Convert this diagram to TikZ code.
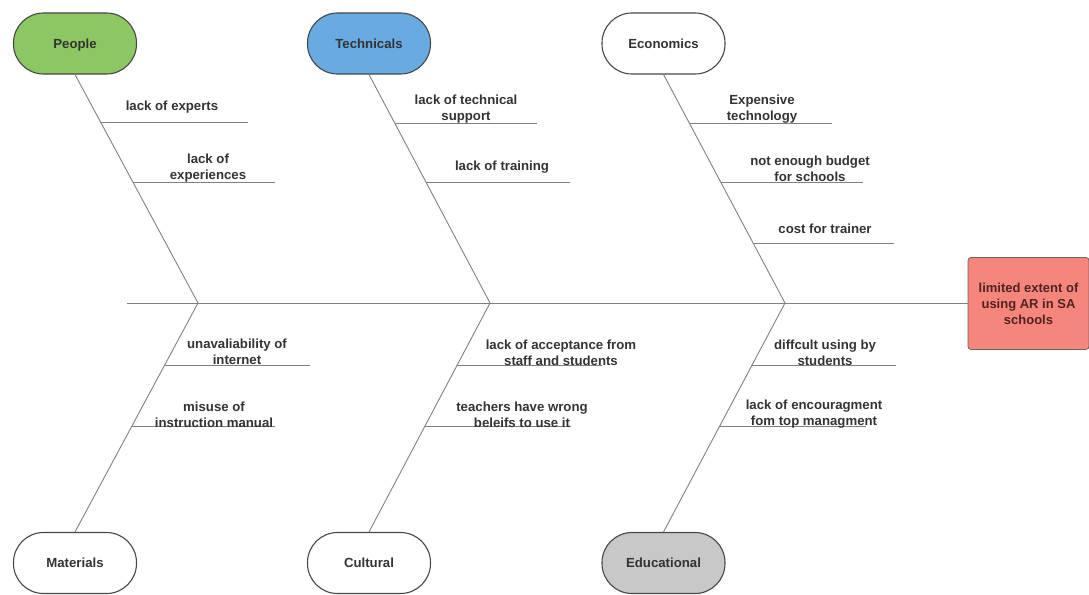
\documentclass[tikz,border=0pt]{standalone}
\usepackage{fontspec}
\setmainfont{Liberation Sans}
\usetikzlibrary{calc}
\definecolor{pgreen}{RGB}{141,199,100}
\definecolor{tblue}{RGB}{104,170,225}
\definecolor{egray}{RGB}{200,200,200}
\definecolor{effred}{RGB}{246,134,124}
\definecolor{linegray}{RGB}{128,128,128}
\definecolor{txt}{RGB}{51,51,51}
\definecolor{efftxt}{RGB}{80,35,35}
\begin{document}
\begin{tikzpicture}[x=1pt,y=-1pt,
 cat/.style={draw=black!72, line width=1.1pt, rounded corners=30pt, minimum width=123pt, minimum height=61pt, inner sep=0pt, text height=9.6pt, text depth=0pt, font=\fontsize{13.2}{16}\selectfont\bfseries, text=txt},
 bone/.style={draw=linegray, line width=0.9pt},
 lbl/.style={font=\fontsize{13.2}{16}\selectfont\bfseries, text=txt, align=center, inner sep=0pt},
]
\useasboundingbox (0,0) rectangle (1089,594);
% categories
\node[cat, fill=pgreen] (people) at (75,43.5) {People};
\node[cat, fill=tblue] (tech) at (369,43.5) {Technicals};
\node[cat, fill=white] (econ) at (663.5,43.5) {Economics};
\node[cat, fill=white] (mat) at (75,563) {Materials};
\node[cat, fill=white] (cult) at (369,563) {Cultural};
\node[cat, fill=egray] (edu) at (663.5,563) {Educational};
% effect
\node[draw=black!60, line width=0.8pt, fill=effred, rounded corners=3pt, minimum width=121pt, minimum height=92pt, inner sep=0pt, align=center, font=\fontsize{13}{16}\selectfont\bfseries, text=efftxt] (effect) at (1028.5,303.5) {limited extent of\\using AR in SA\\schools};
% spine
\coordinate (s0) at (127,303);
\coordinate (j1) at (198,303);
\coordinate (j2) at (490,303);
\coordinate (j3) at (785,303);
\draw[bone] (s0) -- (effect.west |- s0);
\draw[bone] (people.south) -- (j1) -- (mat.north);
\draw[bone] (tech.south) -- (j2) -- (cult.north);
\draw[bone] (econ.south) -- (j3) -- (edu.north);
% sub-branch points
\path ($(people.south)!0.2096!(j1)$) coordinate (p1)
      ($(people.south)!0.4716!(j1)$) coordinate (p2)
      ($(tech.south)!0.214!(j2)$) coordinate (t1)
      ($(tech.south)!0.4716!(j2)$) coordinate (t2)
      ($(econ.south)!0.214!(j3)$) coordinate (e1)
      ($(econ.south)!0.4716!(j3)$) coordinate (e2)
      ($(econ.south)!0.738!(j3)$) coordinate (e3)
      ($(j1)!0.274!(mat.north)$) coordinate (m1)
      ($(j1)!0.539!(mat.north)$) coordinate (m2)
      ($(j2)!0.274!(cult.north)$) coordinate (c1)
      ($(j2)!0.539!(cult.north)$) coordinate (c2)
      ($(j3)!0.274!(edu.north)$) coordinate (d1)
      ($(j3)!0.539!(edu.north)$) coordinate (d2);
\draw[bone] (p1) -- ++(147,0);
\draw[bone] (p2) -- ++(142,0);
\draw[bone] (t1) -- ++(142,0);
\draw[bone] (t2) -- ++(144,0);
\draw[bone] (e1) -- ++(142,0);
\draw[bone] (e2) -- ++(142,0);
\draw[bone] (e3) -- ++(141,0);
\draw[bone] (m1) -- ++(146,0);
\draw[bone] (m2) -- ++(143,0);
\draw[bone] (c1) -- ++(145,0);
\draw[bone] (c2) -- ++(146,0);
\draw[bone] (d1) -- ++(144,0);
\draw[bone] (d2) -- ++(146,0);
% labels
\node[lbl] (lp1) at (172,107.5) {lack of experts};
\node[lbl] (lp2) at (208,168.5) {lack of\\experiences};
\node[lbl] (lt1) at (466,109.5) {lack of technical\\support};
\node[lbl] (lt2) at (502,167.5) {lack of training};
\node[lbl] (le1) at (762,109.5) {Expensive\\technology};
\node[lbl] (le2) at (810,169) {not enough budget\\for schools};
\node[lbl] (le3) at (825,228.5) {cost for trainer};
\node[lbl] (lm1) at (237,352) {unavaliability of\\internet};
\node[lbl] (lm2) at (214,414.5) {misuse of\\instruction manual};
\node[lbl] (lc1) at (561,352.5) {lack of acceptance from\\staff and students};
\node[lbl] (lc2) at (522,414.5) {teachers have wrong\\beleifs to use it};
\node[lbl] (ld1) at (825,352.5) {diffcult using by\\students};
\node[lbl] (ld2) at (814,414.5) {lack of encouragment\\fom top managment};
\end{tikzpicture}
\end{document}
